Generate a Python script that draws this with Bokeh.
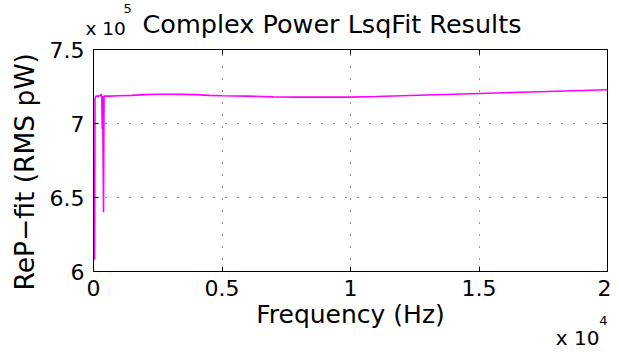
from bokeh.plotting import figure
from bokeh.models import Range1d, LinearAxis, FixedTicker, Title
from bokeh.embed import file_html
from bokeh.resources import INLINE

# Frequency (Hz) and fitted real power (RMS pW)
freq = [40, 60, 100, 200, 280, 300, 320, 340, 355, 390, 410, 600, 1000, 1500,
        2000, 2500, 3000, 3500, 4000, 4500, 5000, 6000, 7000, 8000, 9000, 10000,
        11000, 12000, 13000, 14000, 15000, 16000, 17000, 18000, 19000, 20000]
rep_fit = [6.08e5, 7.17e5, 7.185e5, 7.185e5, 7.19e5, 7.20e5, 7.185e5, 6.96e5,
           7.185e5, 6.40e5, 7.185e5, 7.185e5, 7.188e5, 7.19e5, 7.195e5, 7.198e5,
           7.198e5, 7.197e5, 7.195e5, 7.19e5, 7.188e5, 7.185e5, 7.18e5, 7.178e5,
           7.178e5, 7.178e5, 7.182e5, 7.188e5, 7.193e5, 7.198e5, 7.203e5,
           7.208e5, 7.213e5, 7.218e5, 7.223e5, 7.228e5]

x_ticks = [0, 5000, 10000, 15000, 20000]
x_tick_labels = ["0", "0.5", "1", "1.5", "2"]
y_ticks = [600000, 650000, 700000, 750000]
y_tick_labels = ["6", "6.5", "7", "7.5"]

FONT = "DejaVu Sans"
TICK_FS = "22px"
XLAB_FS = "25px"
YLAB_FS = "26.5px"
TITLE_FS = "25.5px"
SUP_FS = "13px"

p = figure(frame_width=514, frame_height=222, output_backend="svg",
           toolbar_location=None, x_range=Range1d(0, 20000),
           y_range=Range1d(600000, 750000), title_location=None,
           min_border_left=92, min_border_top=49, min_border_right=4,
           min_border_bottom=76)
p.background_fill_color = "white"
p.border_fill_color = "white"
p.outline_line_color = "black"
p.outline_line_width = 1

for ax in (p.xaxis[0], p.yaxis[0]):
    ax.major_label_text_font = FONT
    ax.major_label_text_font_size = TICK_FS
    ax.axis_label_text_font = FONT
    ax.axis_label_text_font_size = XLAB_FS
    ax.axis_label_text_font_style = "normal"
    ax.major_tick_in = 5
    ax.major_tick_out = 0
    ax.minor_tick_line_color = None
    ax.axis_line_color = "black"
    ax.major_label_text_color = "black"
    ax.axis_label_text_color = "black"

xax = p.xaxis[0]
xax.ticker = FixedTicker(ticks=x_ticks)
xax.major_label_overrides = dict(zip(x_ticks, x_tick_labels))
xax.axis_label = "Frequency (Hz)"
xax.major_label_standoff = 8
xax.axis_label_standoff = 1

yax = p.yaxis[0]
yax.ticker = FixedTicker(ticks=y_ticks)
yax.major_label_overrides = dict(zip(y_ticks, y_tick_labels))
yax.major_label_standoff = 9

# box ticks on top and right
top = LinearAxis(ticker=FixedTicker(ticks=x_ticks), major_tick_in=5, major_tick_out=0,
                 minor_tick_line_color=None, major_label_text_font_size="0px",
                 major_label_standoff=0)
right = LinearAxis(ticker=FixedTicker(ticks=y_ticks), major_tick_in=5, major_tick_out=0,
                   minor_tick_line_color=None, major_label_text_font_size="0px",
                   major_label_standoff=0)


def title(text, size, align, offset, standoff, valign="bottom"):
    return Title(text=text, align=align, offset=offset, standoff=standoff,
                 vertical_align=valign,
                 text_font=FONT, text_font_size=size, text_font_style="normal",
                 text_color="black")


ylab = title("ReP\u2212fit (RMS pW)", YLAB_FS, "left", -19, 13)
t_x10 = title("x 10", "18.5px", "left", -8, 21)
t_main = title("Complex Power LsqFit Results", TITLE_FS, "left", 49, -66)
t_5 = title("5", SUP_FS, "left", 30, -15)
b_4 = title("4", SUP_FS, "right", 0, -32, "top")
b_x10 = title("x 10", "20px", "right", 8, -16)

p.above = [top, t_x10, t_main, t_5]
p.right = [right]
p.left = [yax, ylab]
p.below = [xax, b_4, b_x10]

p.xgrid.ticker = FixedTicker(ticks=x_ticks)
p.ygrid.ticker = FixedTicker(ticks=y_ticks)
p.grid.grid_line_color = "#333333"
p.grid.grid_line_dash = "1 11"
p.grid.grid_line_width = 1

p.line(freq, rep_fit, line_color="#FF00FF", line_width=1.6)

open("out.html", "w").write(file_html(p, INLINE))
